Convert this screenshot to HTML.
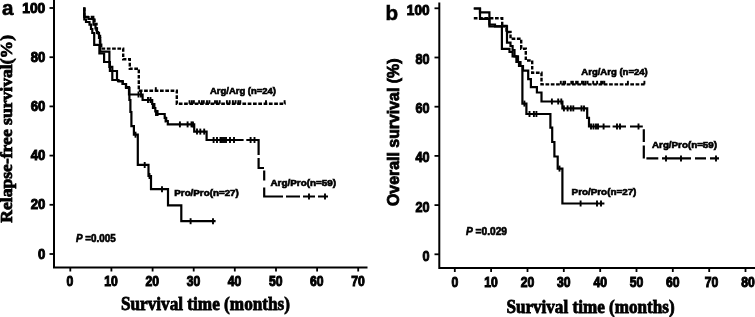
<!DOCTYPE html>
<html><head><meta charset="utf-8"><style>
html,body{margin:0;padding:0;background:#fff;width:755px;height:317px;overflow:hidden}
svg{display:block;filter:grayscale(1)}
text{fill:#000;stroke:#000}
.tk{font-family:"Liberation Sans",sans-serif;font-weight:bold;font-size:14px;stroke-width:1.0}
.lb{font-family:"Liberation Sans",sans-serif;font-weight:bold;font-size:9.3px;stroke-width:0.65}
.xt{font-family:"Liberation Serif",serif;font-weight:bold;font-size:18.4px;stroke-width:0.8}
.pn{font-family:"Liberation Sans",sans-serif;font-weight:bold;font-size:20.6px;stroke-width:0.6}
</style></head><body>
<svg width="755" height="317" viewBox="0 0 755 317">
<rect width="755" height="317" fill="#fff"/>
<path d="M54,0 V267.5 H367.5" fill="none" stroke="#000" stroke-width="2"/>
<line x1="49.5" y1="254.0" x2="54" y2="254.0" stroke="#000" stroke-width="1.8"/>
<text transform="translate(45.3,258.6) scale(0.9,1)" class="tk" style="font-size:14.6px" text-anchor="end">0</text>
<line x1="49.5" y1="204.8" x2="54" y2="204.8" stroke="#000" stroke-width="1.8"/>
<text transform="translate(45.3,209.4) scale(0.9,1)" class="tk" style="font-size:14.6px" text-anchor="end">20</text>
<line x1="49.5" y1="155.6" x2="54" y2="155.6" stroke="#000" stroke-width="1.8"/>
<text transform="translate(45.3,160.2) scale(0.9,1)" class="tk" style="font-size:14.6px" text-anchor="end">40</text>
<line x1="49.5" y1="106.4" x2="54" y2="106.4" stroke="#000" stroke-width="1.8"/>
<text transform="translate(45.3,111.0) scale(0.9,1)" class="tk" style="font-size:14.6px" text-anchor="end">60</text>
<line x1="49.5" y1="57.2" x2="54" y2="57.2" stroke="#000" stroke-width="1.8"/>
<text transform="translate(45.3,61.8) scale(0.9,1)" class="tk" style="font-size:14.6px" text-anchor="end">80</text>
<line x1="49.5" y1="8.0" x2="54" y2="8.0" stroke="#000" stroke-width="1.8"/>
<text transform="translate(45.3,12.6) scale(0.95,1)" class="tk" style="font-size:14.6px" text-anchor="end">100</text>
<line x1="70.3" y1="267" x2="70.3" y2="271.5" stroke="#000" stroke-width="1.8"/>
<text transform="translate(70.0,286) scale(0.87,1)" class="tk" text-anchor="middle">0</text>
<line x1="111.4" y1="267" x2="111.4" y2="271.5" stroke="#000" stroke-width="1.8"/>
<text transform="translate(111.1,286) scale(0.87,1)" class="tk" text-anchor="middle">10</text>
<line x1="152.6" y1="267" x2="152.6" y2="271.5" stroke="#000" stroke-width="1.8"/>
<text transform="translate(152.3,286) scale(0.87,1)" class="tk" text-anchor="middle">20</text>
<line x1="193.7" y1="267" x2="193.7" y2="271.5" stroke="#000" stroke-width="1.8"/>
<text transform="translate(193.4,286) scale(0.87,1)" class="tk" text-anchor="middle">30</text>
<line x1="234.8" y1="267" x2="234.8" y2="271.5" stroke="#000" stroke-width="1.8"/>
<text transform="translate(234.5,286) scale(0.87,1)" class="tk" text-anchor="middle">40</text>
<line x1="276.0" y1="267" x2="276.0" y2="271.5" stroke="#000" stroke-width="1.8"/>
<text transform="translate(275.7,286) scale(0.87,1)" class="tk" text-anchor="middle">50</text>
<line x1="317.1" y1="267" x2="317.1" y2="271.5" stroke="#000" stroke-width="1.8"/>
<text transform="translate(316.8,286) scale(0.87,1)" class="tk" text-anchor="middle">60</text>
<line x1="358.2" y1="267" x2="358.2" y2="271.5" stroke="#000" stroke-width="1.8"/>
<text transform="translate(357.9,286) scale(0.87,1)" class="tk" text-anchor="middle">70</text>
<path d="M439.3,2.5 V268 H755" fill="none" stroke="#000" stroke-width="2"/>
<line x1="434.5" y1="254.3" x2="439.3" y2="254.3" stroke="#000" stroke-width="1.8"/>
<text transform="translate(429.5,260.7) scale(0.9,1)" class="tk" text-anchor="end">0</text>
<line x1="434.5" y1="205.1" x2="439.3" y2="205.1" stroke="#000" stroke-width="1.8"/>
<text transform="translate(429.5,211.5) scale(0.9,1)" class="tk" text-anchor="end">20</text>
<line x1="434.5" y1="155.9" x2="439.3" y2="155.9" stroke="#000" stroke-width="1.8"/>
<text transform="translate(429.5,162.3) scale(0.9,1)" class="tk" text-anchor="end">40</text>
<line x1="434.5" y1="106.7" x2="439.3" y2="106.7" stroke="#000" stroke-width="1.8"/>
<text transform="translate(429.5,113.1) scale(0.9,1)" class="tk" text-anchor="end">60</text>
<line x1="434.5" y1="57.5" x2="439.3" y2="57.5" stroke="#000" stroke-width="1.8"/>
<text transform="translate(429.5,63.9) scale(0.9,1)" class="tk" text-anchor="end">80</text>
<line x1="434.5" y1="8.3" x2="439.3" y2="8.3" stroke="#000" stroke-width="1.8"/>
<text transform="translate(429.5,14.7) scale(0.97,1)" class="tk" text-anchor="end">100</text>
<line x1="454.8" y1="268" x2="454.8" y2="272" stroke="#000" stroke-width="1.8"/>
<text transform="translate(454.8,286.6) scale(0.87,1)" class="tk" text-anchor="middle">0</text>
<line x1="491.1" y1="268" x2="491.1" y2="272" stroke="#000" stroke-width="1.8"/>
<text transform="translate(491.1,286.6) scale(0.87,1)" class="tk" text-anchor="middle">10</text>
<line x1="527.5" y1="268" x2="527.5" y2="272" stroke="#000" stroke-width="1.8"/>
<text transform="translate(527.5,286.6) scale(0.87,1)" class="tk" text-anchor="middle">20</text>
<line x1="563.8" y1="268" x2="563.8" y2="272" stroke="#000" stroke-width="1.8"/>
<text transform="translate(563.8,286.6) scale(0.87,1)" class="tk" text-anchor="middle">30</text>
<line x1="600.2" y1="268" x2="600.2" y2="272" stroke="#000" stroke-width="1.8"/>
<text transform="translate(600.2,286.6) scale(0.87,1)" class="tk" text-anchor="middle">40</text>
<line x1="636.5" y1="268" x2="636.5" y2="272" stroke="#000" stroke-width="1.8"/>
<text transform="translate(636.5,286.6) scale(0.87,1)" class="tk" text-anchor="middle">50</text>
<line x1="672.8" y1="268" x2="672.8" y2="272" stroke="#000" stroke-width="1.8"/>
<text transform="translate(672.8,286.6) scale(0.87,1)" class="tk" text-anchor="middle">60</text>
<line x1="709.2" y1="268" x2="709.2" y2="272" stroke="#000" stroke-width="1.8"/>
<text transform="translate(711.4,286.6) scale(0.87,1)" class="tk" text-anchor="middle">70</text>
<line x1="745.5" y1="268" x2="745.5" y2="272" stroke="#000" stroke-width="1.8"/>
<text transform="translate(747.9,286.6) scale(0.87,1)" class="tk" text-anchor="middle">80</text>
<g fill="none" stroke="#000" stroke-width="2.2" stroke-linejoin="miter" stroke-linecap="butt">
<path d="M84.3,7.5 V17 H94.5 V24 H96.5 V30 H98 V36 H100 V42 H101.2 V48.6 H123.2 V59.2 H129.8 V68.8 H138.8 V90.8 H176.8 V103.8 H285.6" stroke-dasharray="3.7,1.6" stroke-width="2.4"/>
<path d="M84.3,7.5 V19.5 H86 V22 H89.5 V24.6 H91 V29 H92.3 V33 H94.2 V44.8 H99.4 V53.5 H104.1 V62 H109.9 V71 H117 V80 H118.5 V81.5 H122.7 V84 H126 V88 H129.4 V100 H130.4 V112 H131.4 V126.2 H133.9 V134.7 H137.8 V164.8 H148.5 V176 H151 V189.2 H168 V205.4 H181.3 V221.2 H215.6"/>
<path d="M84.3,7.5 V17 H88.5 V19 H93.5 V24.6 H95.5 V28.4 H97 V33 H99 V38 H100.2 V51.6 H109.4 V66.8 H112.3 V80 H118 V81 H122.7 V84 H126 V87 H129 V94.5 H142.6 V100 H152.2 V104 H153.8 V108 H155.3 V111.5 H157 V114 H164.7 V118 H166.2 V121 H167.8 V124.4 H194.2 V131.6 H206.6 V140 H243.6 M246.3,140 H258.6 V155 M258.6,158 V168 H264 M264.2,170.6 V180.5 M264.2,187.5 V196.5 H283 M286,196.5 H300 M303,196.5 H315 M318,196.5 H328"/>
<path d="M473.8,18.3 H502.2 V26 H506.5 V32 H510.5 V38.8 H521.2 V48.7 H525.8 V60.5 H532.2 V72.8 H541.5 V84.4 H645.1" stroke-dasharray="3.7,1.6" stroke-width="2.4"/>
<path d="M473.8,8.5 H480 V12.3 H489.4 V26.3 H501.9 V48.9 H509.5 V52 H512.6 V56.4 H516.4 V62 H519 V66 H522.4 V103.6 H526.4 V114 H550.4 V127.7 H552.2 V142 H554.4 V156.5 H557.7 V168.6 H562.4 V203.5 H604.4"/>
<path d="M473.8,8.5 H480 V18.9 H489.4 V24.5 H495 V26.3 H507 V42.7 H510.5 V46 H512.6 V50 H514.5 V56.4 H518 V62 H520.5 V66 H523 V70.6 H528.2 V79.2 H530.9 V87.2 H536.9 V92.5 H541.5 V101.5 H562.4 V108.4 H587.2 V117.9 H589 V126.5 H610.2 M612.6,126.5 H626 M630,126.5 H642.8 M643.8,129.2 V142 M643.8,145.6 V158.4 M646.4,158.4 H658.3 M662,158.4 H691 M695,158.4 H706 M710,158.4 H719"/>
</g>
<g stroke="#000" stroke-width="1.9">
<line x1="155.8" y1="87.2" x2="155.8" y2="90.8"/><line x1="189.5" y1="100.2" x2="189.5" y2="103.8"/><line x1="191.9" y1="100.2" x2="191.9" y2="103.8"/><line x1="193.9" y1="100.2" x2="193.9" y2="103.8"/><line x1="199.1" y1="100.2" x2="199.1" y2="103.8"/><line x1="201.9" y1="100.2" x2="201.9" y2="103.8"/><line x1="203.8" y1="100.2" x2="203.8" y2="103.8"/><line x1="207" y1="100.2" x2="207" y2="103.8"/><line x1="209.4" y1="100.2" x2="209.4" y2="103.8"/><line x1="215" y1="100.2" x2="215" y2="103.8"/><line x1="217" y1="100.2" x2="217" y2="103.8"/><line x1="219.7" y1="100.2" x2="219.7" y2="103.8"/><line x1="226.9" y1="100.2" x2="226.9" y2="103.8"/><line x1="229.7" y1="100.2" x2="229.7" y2="103.8"/><line x1="232.9" y1="100.2" x2="232.9" y2="103.8"/><line x1="235.6" y1="100.2" x2="235.6" y2="103.8"/><line x1="238.4" y1="100.2" x2="238.4" y2="103.8"/><line x1="240.3" y1="100.2" x2="240.3" y2="103.8"/><line x1="266" y1="100.2" x2="266" y2="103.8"/><line x1="284.6" y1="100.2" x2="284.6" y2="103.8"/><line x1="144.7" y1="162.0" x2="144.7" y2="168.0"/><line x1="149.5" y1="173.0" x2="149.5" y2="179.0"/><line x1="162" y1="186.2" x2="162" y2="192.2"/><line x1="190.6" y1="218.2" x2="190.6" y2="224.2"/><line x1="213" y1="218.2" x2="213" y2="224.2"/><line x1="179.9" y1="121.4" x2="179.9" y2="127.4"/><line x1="187.6" y1="121.4" x2="187.6" y2="127.4"/><line x1="191.5" y1="121.4" x2="191.5" y2="127.4"/><line x1="193" y1="121.4" x2="193" y2="127.4"/><line x1="197" y1="128.6" x2="197" y2="134.6"/><line x1="200.3" y1="128.6" x2="200.3" y2="134.6"/><line x1="204.2" y1="128.6" x2="204.2" y2="134.6"/><line x1="213.6" y1="137.0" x2="213.6" y2="143.0"/><line x1="217" y1="137.0" x2="217" y2="143.0"/><line x1="220.5" y1="137.0" x2="220.5" y2="143.0"/><line x1="222" y1="137.0" x2="222" y2="143.0"/><line x1="224" y1="137.0" x2="224" y2="143.0"/><line x1="226" y1="137.0" x2="226" y2="143.0"/><line x1="230" y1="137.0" x2="230" y2="143.0"/><line x1="234" y1="137.0" x2="234" y2="143.0"/><line x1="250.6" y1="137.0" x2="250.6" y2="143.0"/><line x1="254.5" y1="137.0" x2="254.5" y2="143.0"/><line x1="309" y1="193.5" x2="309" y2="199.5"/><line x1="325" y1="193.5" x2="325" y2="199.5"/><line x1="138.5" y1="91.5" x2="138.5" y2="97.5"/><line x1="141" y1="91.5" x2="141" y2="97.5"/><line x1="148" y1="97.0" x2="148" y2="103.0"/><line x1="150.5" y1="97.0" x2="150.5" y2="103.0"/><line x1="152.8" y1="103.0" x2="152.8" y2="109.0"/><line x1="154.5" y1="103.0" x2="154.5" y2="109.0"/><line x1="156" y1="110.0" x2="156" y2="116.0"/><line x1="157.6" y1="110.0" x2="157.6" y2="116.0"/><line x1="165.5" y1="116.5" x2="165.5" y2="122.5"/><line x1="135.5" y1="131.7" x2="135.5" y2="137.7"/>
<line x1="560.8" y1="80.80000000000001" x2="560.8" y2="84.4"/><line x1="563.5" y1="80.80000000000001" x2="563.5" y2="84.4"/><line x1="565.1" y1="80.80000000000001" x2="565.1" y2="84.4"/><line x1="571.3" y1="80.80000000000001" x2="571.3" y2="84.4"/><line x1="572.9" y1="80.80000000000001" x2="572.9" y2="84.4"/><line x1="576.1" y1="80.80000000000001" x2="576.1" y2="84.4"/><line x1="577.7" y1="80.80000000000001" x2="577.7" y2="84.4"/><line x1="582" y1="80.80000000000001" x2="582" y2="84.4"/><line x1="583.6" y1="80.80000000000001" x2="583.6" y2="84.4"/><line x1="585.6" y1="80.80000000000001" x2="585.6" y2="84.4"/><line x1="587.6" y1="80.80000000000001" x2="587.6" y2="84.4"/><line x1="593.2" y1="80.80000000000001" x2="593.2" y2="84.4"/><line x1="597.1" y1="80.80000000000001" x2="597.1" y2="84.4"/><line x1="601.1" y1="80.80000000000001" x2="601.1" y2="84.4"/><line x1="602.7" y1="80.80000000000001" x2="602.7" y2="84.4"/><line x1="604.3" y1="80.80000000000001" x2="604.3" y2="84.4"/><line x1="627.9" y1="80.80000000000001" x2="627.9" y2="84.4"/><line x1="644.4" y1="80.80000000000001" x2="644.4" y2="84.4"/><line x1="551.9" y1="98.5" x2="551.9" y2="104.5"/><line x1="558.2" y1="98.5" x2="558.2" y2="104.5"/><line x1="561.3" y1="98.5" x2="561.3" y2="104.5"/><line x1="563.9" y1="105.4" x2="563.9" y2="111.4"/><line x1="567.6" y1="105.4" x2="567.6" y2="111.4"/><line x1="570.8" y1="105.4" x2="570.8" y2="111.4"/><line x1="573.3" y1="105.4" x2="573.3" y2="111.4"/><line x1="581.5" y1="105.4" x2="581.5" y2="111.4"/><line x1="584" y1="105.4" x2="584" y2="111.4"/><line x1="591" y1="123.5" x2="591" y2="129.5"/><line x1="593.5" y1="123.5" x2="593.5" y2="129.5"/><line x1="596" y1="123.5" x2="596" y2="129.5"/><line x1="598" y1="123.5" x2="598" y2="129.5"/><line x1="603.6" y1="123.5" x2="603.6" y2="129.5"/><line x1="617" y1="123.5" x2="617" y2="129.5"/><line x1="620" y1="123.5" x2="620" y2="129.5"/><line x1="638.5" y1="123.5" x2="638.5" y2="129.5"/><line x1="666" y1="155.4" x2="666" y2="161.4"/><line x1="681" y1="155.4" x2="681" y2="161.4"/><line x1="716" y1="155.4" x2="716" y2="161.4"/><line x1="529.5" y1="111.0" x2="529.5" y2="117.0"/><line x1="533.9" y1="111.0" x2="533.9" y2="117.0"/><line x1="536.4" y1="111.0" x2="536.4" y2="117.0"/><line x1="524.4" y1="100.6" x2="524.4" y2="106.6"/><line x1="580.6" y1="200.5" x2="580.6" y2="206.5"/><line x1="597" y1="200.5" x2="597" y2="206.5"/><line x1="601" y1="200.5" x2="601" y2="206.5"/><line x1="559.5" y1="165.6" x2="559.5" y2="171.6"/>
</g>
<text x="1.9" y="15.4" class="pn">a</text>
<text x="385.6" y="20.2" class="pn">b</text>
<text class="lb" x="210" y="93.7" textLength="66" lengthAdjust="spacingAndGlyphs">Arg/Arg (n=24)</text>
<text class="lb" x="270.5" y="186" textLength="65.5" lengthAdjust="spacingAndGlyphs">Arg/Pro(n=59)</text>
<text class="lb" x="174.3" y="196.3" textLength="64.5" lengthAdjust="spacingAndGlyphs">Pro/Pro(n=27)</text>
<text class="lb" x="581.3" y="74.5" textLength="66.5" lengthAdjust="spacingAndGlyphs">Arg/Arg (n=24)</text>
<text class="lb" x="652" y="148" textLength="65" lengthAdjust="spacingAndGlyphs">Arg/Pro(n=59)</text>
<text class="lb" x="571.6" y="195" textLength="64.8" lengthAdjust="spacingAndGlyphs">Pro/Pro(n=27)</text>
<text class="lb" style="font-size:10.6px" x="76" y="241.6" textLength="39.7" lengthAdjust="spacingAndGlyphs"><tspan font-style="italic">P</tspan> =0.005</text>
<text class="lb" style="font-size:10.6px" x="466" y="235.4" textLength="41" lengthAdjust="spacingAndGlyphs"><tspan font-style="italic">P</tspan> =0.029</text>
<text class="xt" x="121" y="309.9" textLength="169" lengthAdjust="spacingAndGlyphs">Survival time (months)</text>
<text class="xt" x="506.4" y="312.7" textLength="168.2" lengthAdjust="spacingAndGlyphs">Survival time (months)</text>
<text class="xt" transform="translate(12.4,222.7) rotate(-90)" style="font-size:17.5px" textLength="187.7" lengthAdjust="spacingAndGlyphs">Relapse-free survival(%)</text>
<text class="tk" transform="translate(399,206) rotate(-90)" textLength="147.5" lengthAdjust="spacingAndGlyphs" style="stroke-width:0.8;font-size:16px">Overall survival (%)</text>
</svg>
</body></html>
